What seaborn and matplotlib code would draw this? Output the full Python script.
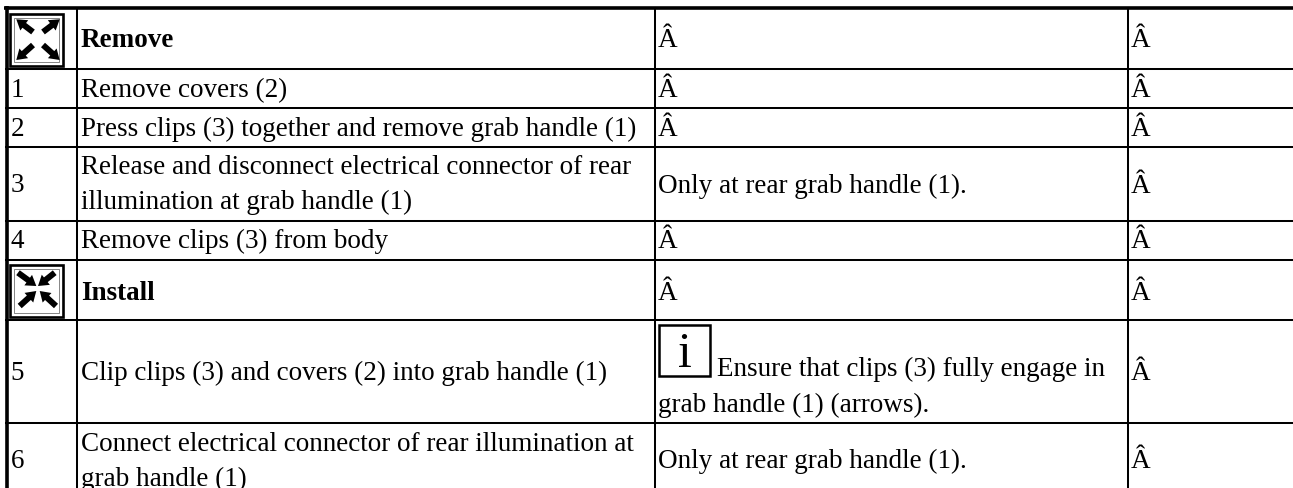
import matplotlib
matplotlib.use("Agg")
import matplotlib.pyplot as plt
import seaborn as sns
from matplotlib.patches import Rectangle

# table content
step_labels = ["1", "2", "3", "4", "5", "6"]
section_titles = ["Remove", "Install"]
remove_actions = [
    ["Remove covers (2)"],
    ["Press clips (3) together and remove grab handle (1)"],
    ["Release and disconnect electrical connector of rear",
     "illumination at grab handle (1)"],
    ["Remove clips (3) from body"],
]
install_actions = [
    ["Clip clips (3) and covers (2) into grab handle (1)"],
    ["Connect electrical connector of rear illumination at",
     "grab handle (1)"],
]
rear_note = "Only at rear grab handle (1)."
engage_note = ["Ensure that clips (3) fully engage in",
               "grab handle (1) (arrows)."]
empty_cell = "Â"
info_glyph = "i"

# layout, in pixels of the 1293x488 picture
COL_LINES = [77, 655, 1127.5]
ROW_LINES = [69, 108, 147, 221, 260, 320, 422.5]
COL_TEXT = [10.5, 81, 658, 1131]
FONT_SIZE = 19.5

sns.set_theme(style="white")
plt.rcParams["font.family"] = ["Liberation Serif", "DejaVu Serif"]

fig, ax = plt.subplots(figsize=(12.93, 4.88), dpi=100)
ax.set_position([0, 0, 1, 1])
ax.set_xlim(0, 1293)
ax.set_ylim(488, 0)
ax.axis("off")
sns.despine(ax=ax, left=True, bottom=True)

# rules
ax.hlines(ROW_LINES, 5, 1293, color="black", linewidth=1.45)
ax.vlines(COL_LINES, 7, 488, color="black", linewidth=1.45)
ax.hlines(7.6, 4, 1293, color="black", linewidth=2.6)
ax.vlines(6.6, 5.5, 488, color="black", linewidth=2.6)


def put(x, y, text, **kw):
    ax.text(x, y, text, fontsize=FONT_SIZE, color="black",
            ha="left", va="baseline", **kw)


# numbered column
for label, y in zip(step_labels, [97, 136.5, 192, 248, 380, 468]):
    put(COL_TEXT[0], y, label)

# section headers
put(COL_TEXT[1], 47, section_titles[0], fontweight="bold")
put(COL_TEXT[1], 300, section_titles[1], fontweight="bold")

# action column
action_lines = remove_actions + install_actions
action_base = [[97], [136.5], [174.5, 209], [248], [380], [451, 486]]
for lines, ys in zip(action_lines, action_base):
    for line, y in zip(lines, ys):
        put(COL_TEXT[1], y, line)

# notes column
for y in [47, 97, 136.5, 248, 300]:
    put(COL_TEXT[2], y, empty_cell)
put(COL_TEXT[2], 193, rear_note)
put(COL_TEXT[2], 468, rear_note)
put(717, 376.5, engage_note[0])
put(COL_TEXT[2], 411.5, engage_note[1])

# last column
for y in [47, 97, 136.5, 193, 248, 300, 380, 468]:
    put(COL_TEXT[3], y, empty_cell)

# info box
ax.add_patch(Rectangle((659, 325), 51, 51, fill=False, edgecolor="black", linewidth=1.8))
ax.text(684.5, 367, info_glyph, fontsize=36, color="black", ha="center", va="baseline")


def icon(top, arrows):
    ax.add_patch(Rectangle((10.3, top), 52.7, 52.7, fill=False, edgecolor="black", linewidth=1.9))
    ax.add_patch(Rectangle((14.3, top + 4), 44.7, 44.7, fill=False, edgecolor="#555555", linewidth=0.5))
    for (x0, y0), (x1, y1) in arrows:
        ax.arrow(x0, y0, x1 - x0, y1 - y0, width=6, head_width=13, head_length=10,
                 length_includes_head=True, color="black", linewidth=0)


icon(13.7, [((33, 32), (16.3, 19.3)), ((43, 32), (59.7, 19.3)),
            ((33, 45), (16.3, 60)), ((43, 45), (59.7, 60))])
icon(264.5, [((18, 272.7), (36.3, 286)), ((54.7, 272.7), (38, 286)),
             ((19.7, 306), (36.3, 291)), ((56, 306), (39.7, 291))])

fig.savefig("out.png", dpi=100)
